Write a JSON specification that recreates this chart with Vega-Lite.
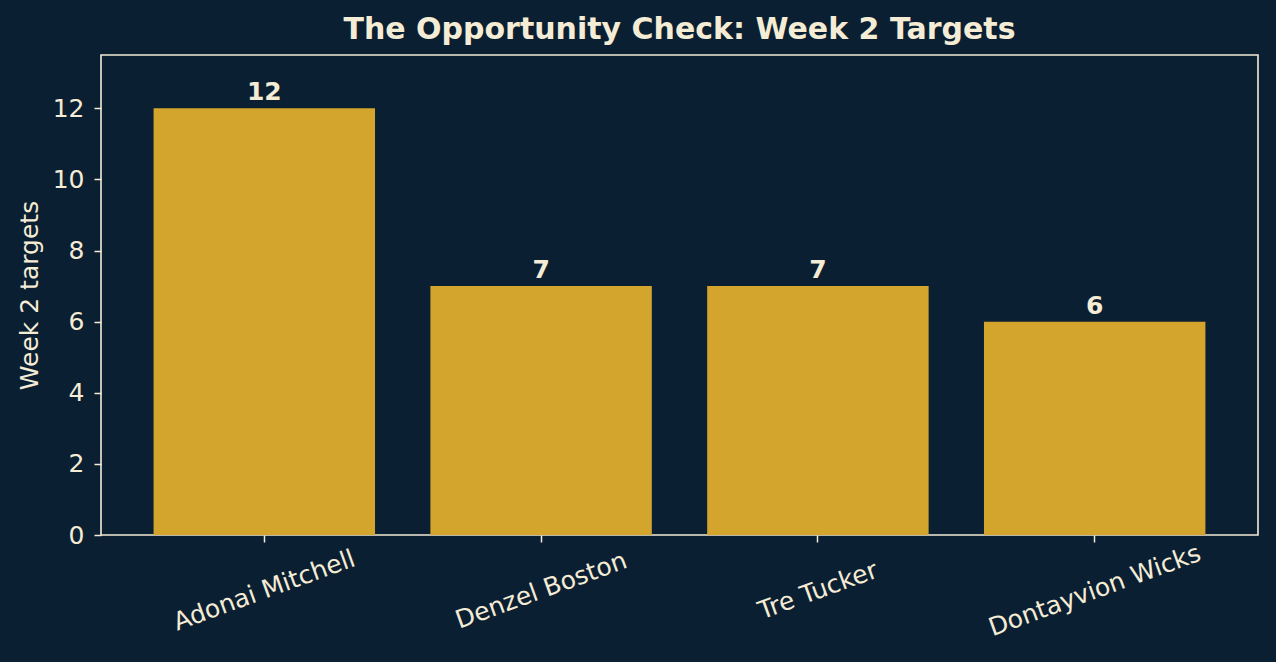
{
  "$schema": "https://vega.github.io/schema/vega-lite/v6.json",
  "width": 1157,
  "height": 480,
  "autosize": {"type": "none"},
  "padding": {"left": 101, "top": 55, "right": 18, "bottom": 127},
  "background": "#0b1f33",
  "config": {
    "font": "DejaVu Sans",
    "view": {"stroke": "#f5ecd5", "strokeWidth": 1.6, "fill": "#0b1f33"},
    "axis": {"grid": false, "domain": false, "tickColor": "#f5ecd5", "tickSize": 7, "tickWidth": 1.5, "labelColor": "#f5ecd5", "titleColor": "#f5ecd5", "labelFont": "DejaVu Sans", "titleFont": "DejaVu Sans", "labelLimit": 500}
  },
  "title": {"text": "The Opportunity Check: Week 2 Targets", "color": "#f5ecd5", "fontSize": 30, "fontWeight": "bold", "font": "DejaVu Sans", "anchor": "middle", "offset": 10},
  "data": {"values": [
    {"player": "Adonai Mitchell", "targets": 12},
    {"player": "Denzel Boston", "targets": 7},
    {"player": "Tre Tucker", "targets": 7},
    {"player": "Dontayvion Wicks", "targets": 6}
  ]},
  "encoding": {
    "x": {"field": "player", "type": "nominal", "sort": null,
      "scale": {"paddingInner": 0.2, "paddingOuter": 0.19},
      "axis": {"title": null, "labelAngle": -20, "labelAlign": "center", "labelBaseline": "middle", "labelPadding": 48, "labelFontSize": 25, "labelLimit": 500}},
    "y": {"field": "targets", "type": "quantitative",
      "scale": {"domain": [0, 13.5], "nice": false},
      "axis": {"title": "Week 2 targets", "titleFontSize": 25, "titleFontWeight": "normal", "titleX": -72, "titleY": 240, "titleBaseline": "middle", "titleAlign": "center", "titleAngle": -90, "labelFontSize": 25, "labelPadding": 10, "values": [0, 2, 4, 6, 8, 10, 12]}}
  },
  "layer": [
    {"mark": {"type": "bar", "color": "#d4a52c"}},
    {"mark": {"type": "text", "baseline": "alphabetic", "dy": -8, "fontSize": 25, "fontWeight": "bold", "color": "#f5ecd5"},
     "encoding": {"text": {"field": "targets", "type": "quantitative"}}}
  ]
}
